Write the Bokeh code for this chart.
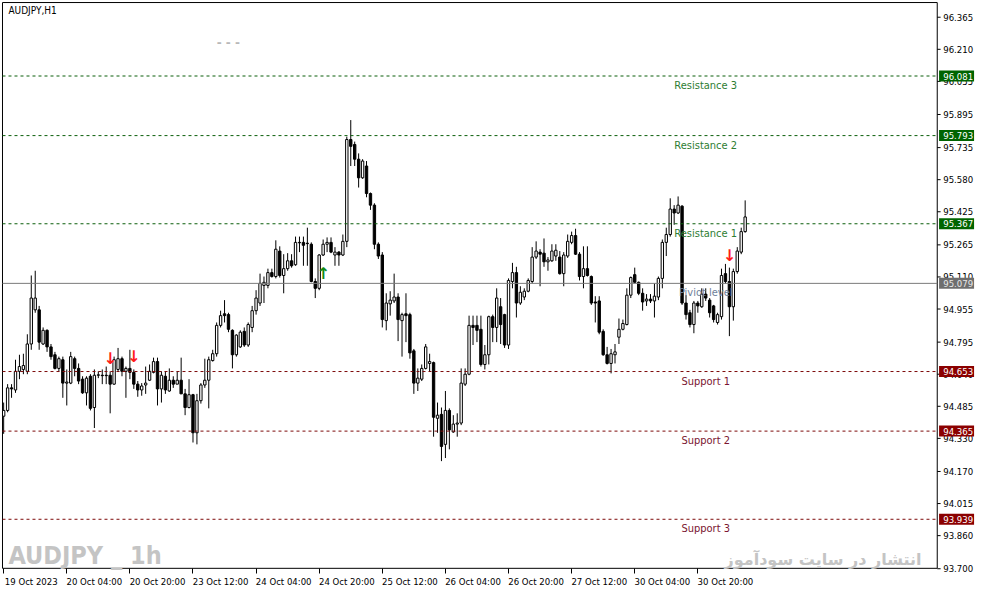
import pandas as pd
from bokeh.plotting import figure
from bokeh.models import ColumnDataSource, FixedTicker, Label, Range1d
from bokeh.core.properties import value
from bokeh.embed import file_html
from bokeh.resources import INLINE

# ---------------- data (AUDJPY H1) ----------------
open_ = [94.437, 94.465, 94.574, 94.564, 94.654, 94.663, 94.654, 94.786, 94.951, 94.951,
         94.786, 94.852, 94.772, 94.734, 94.668, 94.710, 94.597, 94.597, 94.715, 94.668,
         94.616, 94.550, 94.630, 94.479, 94.635, 94.635, 94.635, 94.635, 94.592, 94.663,
         94.715, 94.654, 94.668, 94.649, 94.592, 94.564, 94.588, 94.611, 94.649, 94.701,
         94.569, 94.630, 94.559, 94.611, 94.592, 94.611, 94.545, 94.479, 94.541, 94.357,
         94.512, 94.588, 94.611, 94.706, 94.739, 94.876, 94.932, 94.928, 94.852, 94.734,
         94.772, 94.847, 94.781, 94.866, 94.947, 94.984, 95.069, 95.069, 95.131, 95.112,
         95.235, 95.117, 95.150, 95.188, 95.169, 95.277, 95.277, 95.273, 95.268, 95.088,
         95.055, 95.216, 95.268, 95.277, 95.216, 95.230, 95.216, 95.282, 95.774, 95.750,
         95.679, 95.589, 95.646, 95.513, 95.457, 95.268, 95.216, 94.899, 94.980, 94.994,
         95.013, 94.899, 94.932, 94.928, 94.753, 94.597, 94.616, 94.668, 94.692, 94.696,
         94.427, 94.446, 94.301, 94.465, 94.361, 94.399, 94.404, 94.592, 94.640, 94.876,
         94.876, 94.857, 94.687, 94.734, 94.918, 94.866, 94.966, 94.928, 94.781, 95.088,
         95.131, 94.984, 95.013, 95.041, 95.088, 95.206, 95.230, 95.225, 95.183, 95.188,
         95.211, 95.206, 95.126, 95.211, 95.277, 95.310, 95.220, 95.112, 95.150, 95.112,
         94.989, 94.994, 94.847, 94.734, 94.692, 94.734, 94.819, 94.857, 94.880, 95.022,
         95.121, 95.084, 95.031, 94.994, 95.003, 94.994, 95.013, 95.103, 95.277, 95.315,
         95.438, 95.419, 95.452, 94.984, 94.937, 94.880, 94.984, 94.966, 95.027, 94.998,
         94.970, 94.890, 94.918, 95.126, 95.088, 94.966, 95.136, 95.230, 95.329]
high = [94.503, 94.592, 94.592, 94.710, 94.734, 94.739, 94.833, 95.117, 95.140, 94.970,
        94.866, 94.857, 94.786, 94.748, 94.725, 94.725, 94.663, 94.748, 94.725, 94.692,
        94.630, 94.630, 94.640, 94.663, 94.654, 94.663, 94.677, 94.654, 94.725, 94.767,
        94.725, 94.677, 94.758, 94.663, 94.607, 94.597, 94.677, 94.687, 94.720, 94.720,
        94.654, 94.654, 94.668, 94.630, 94.654, 94.720, 94.569, 94.616, 94.545, 94.545,
        94.597, 94.715, 94.725, 94.758, 94.890, 94.947, 94.998, 94.937, 94.857, 94.833,
        94.852, 94.866, 94.890, 94.970, 95.046, 95.126, 95.112, 95.150, 95.150, 95.287,
        95.258, 95.220, 95.225, 95.220, 95.305, 95.305, 95.305, 95.348, 95.277, 95.103,
        95.220, 95.291, 95.301, 95.301, 95.254, 95.235, 95.315, 95.788, 95.868, 95.764,
        95.707, 95.679, 95.670, 95.518, 95.466, 95.277, 95.230, 95.031, 95.041, 95.126,
        95.031, 94.937, 95.031, 94.937, 94.762, 94.668, 94.687, 94.786, 94.739, 94.701,
        94.503, 94.479, 94.559, 94.475, 94.442, 94.451, 94.668, 94.668, 94.923, 94.923,
        94.923, 94.923, 94.781, 94.923, 94.928, 95.055, 95.008, 94.932, 95.103, 95.178,
        95.159, 95.065, 95.055, 95.103, 95.254, 95.282, 95.244, 95.296, 95.206, 95.268,
        95.268, 95.235, 95.230, 95.315, 95.329, 95.343, 95.230, 95.258, 95.258, 95.117,
        95.017, 95.017, 94.857, 94.772, 94.762, 94.786, 94.909, 94.904, 95.055, 95.112,
        95.155, 95.088, 95.055, 95.027, 95.027, 95.079, 95.112, 95.291, 95.348, 95.490,
        95.457, 95.499, 95.457, 95.022, 94.951, 94.994, 94.994, 95.055, 95.055, 95.008,
        94.975, 94.937, 95.150, 95.173, 95.155, 95.150, 95.254, 95.348, 95.480]
low = [94.352, 94.456, 94.526, 94.550, 94.616, 94.640, 94.640, 94.758, 94.937, 94.758,
       94.781, 94.748, 94.710, 94.663, 94.654, 94.526, 94.489, 94.592, 94.630, 94.592,
       94.545, 94.489, 94.465, 94.380, 94.621, 94.592, 94.592, 94.451, 94.588, 94.654,
       94.630, 94.526, 94.616, 94.569, 94.531, 94.536, 94.545, 94.607, 94.644, 94.489,
       94.503, 94.545, 94.555, 94.574, 94.592, 94.545, 94.442, 94.475, 94.310, 94.301,
       94.498, 94.574, 94.475, 94.701, 94.725, 94.866, 94.890, 94.843, 94.668, 94.725,
       94.767, 94.772, 94.772, 94.843, 94.928, 94.970, 94.984, 95.055, 95.107, 95.103,
       95.107, 95.031, 95.140, 95.155, 95.164, 95.230, 95.164, 95.164, 95.084, 95.008,
       95.046, 95.211, 95.230, 95.225, 95.164, 95.164, 95.211, 95.254, 95.646, 95.646,
       95.542, 95.584, 95.495, 95.434, 95.244, 95.197, 94.866, 94.852, 94.923, 94.984,
       94.800, 94.725, 94.795, 94.715, 94.545, 94.559, 94.607, 94.663, 94.654, 94.338,
       94.357, 94.220, 94.235, 94.277, 94.357, 94.338, 94.394, 94.583, 94.635, 94.781,
       94.795, 94.677, 94.663, 94.687, 94.795, 94.795, 94.786, 94.767, 94.762, 95.055,
       94.914, 94.975, 94.998, 95.036, 95.079, 95.197, 95.065, 95.159, 95.140, 95.183,
       95.188, 95.121, 95.065, 95.202, 95.268, 95.216, 95.093, 95.055, 95.112, 94.975,
       94.890, 94.833, 94.729, 94.687, 94.644, 94.692, 94.786, 94.852, 94.876, 95.008,
       95.079, 95.022, 94.947, 94.970, 94.984, 94.914, 94.998, 95.055, 95.211, 95.305,
       95.362, 95.414, 94.975, 94.904, 94.866, 94.838, 94.937, 94.961, 94.994, 94.914,
       94.890, 94.880, 94.904, 95.079, 94.824, 94.899, 95.126, 95.220, 95.324]
close = [94.465, 94.574, 94.569, 94.654, 94.677, 94.682, 94.786, 95.008, 95.008, 94.795,
         94.852, 94.772, 94.725, 94.668, 94.715, 94.597, 94.602, 94.725, 94.668, 94.607,
         94.550, 94.621, 94.475, 94.635, 94.637, 94.633, 94.633, 94.592, 94.710, 94.715,
         94.654, 94.668, 94.649, 94.592, 94.564, 94.583, 94.597, 94.654, 94.701, 94.569,
         94.635, 94.564, 94.611, 94.592, 94.611, 94.545, 94.479, 94.541, 94.357, 94.512,
         94.588, 94.611, 94.710, 94.739, 94.876, 94.923, 94.923, 94.857, 94.734, 94.829,
         94.843, 94.781, 94.880, 94.947, 95.008, 95.079, 95.084, 95.131, 95.112, 95.244,
         95.117, 95.150, 95.188, 95.164, 95.277, 95.275, 95.263, 95.271, 95.088, 95.055,
         95.216, 95.268, 95.277, 95.230, 95.230, 95.216, 95.282, 95.774, 95.741, 95.679,
         95.589, 95.670, 95.513, 95.457, 95.268, 95.211, 94.904, 94.984, 94.998, 95.013,
         94.904, 94.928, 94.923, 94.743, 94.597, 94.621, 94.668, 94.772, 94.701, 94.432,
         94.442, 94.291, 94.465, 94.371, 94.399, 94.404, 94.597, 94.640, 94.876, 94.866,
         94.852, 94.687, 94.734, 94.918, 94.866, 95.008, 94.880, 94.781, 95.093, 95.131,
         94.984, 95.036, 95.041, 95.093, 95.206, 95.235, 95.220, 95.183, 95.192, 95.235,
         95.239, 95.126, 95.216, 95.282, 95.310, 95.220, 95.112, 95.150, 95.117, 94.984,
         94.984, 94.843, 94.734, 94.692, 94.739, 94.748, 94.857, 94.885, 95.022, 95.107,
         95.084, 95.031, 94.989, 95.003, 94.994, 95.017, 95.103, 95.277, 95.315, 95.438,
         95.419, 95.457, 94.984, 94.928, 94.880, 94.984, 94.970, 95.027, 95.008, 94.937,
         94.904, 94.928, 95.117, 95.088, 94.966, 95.136, 95.235, 95.329, 95.400]

first_bar = "2023-10-19 12:00"
label_every = 16

level_names = ["Resistance 3", "Resistance 2", "Resistance 1", "Piviot level",
               "Support 1", "Support 2", "Support 3"]
level_values = [96.081, 95.793, 95.367, 95.079, 94.653, 94.365, 93.939]
level_kind = ["R", "R", "R", "P", "S", "S", "S"]

y_ticks = [96.365, 96.210, 96.055, 95.895, 95.735, 95.580, 95.425, 95.265, 95.110,
           94.955, 94.795, 94.640, 94.485, 94.330, 94.170, 94.015, 93.860, 93.700]

down_arrow_bars = [27, 33, 184]
up_arrow_bars = [81]

# ---------------- derived ----------------
n = len(close)
idx = list(range(n))
hours = pd.date_range(first_bar, periods=n * 2, freq="h")
times = hours[hours.dayofweek < 5][:n]

tick_idx = list(range(0, n, label_every))
tick_labels = [times[i].strftime("%d %b %Y") if k == 0 else times[i].strftime("%d %b %H:%M")
               for k, i in enumerate(tick_idx)]

src = ColumnDataSource(dict(
    idx=idx, o=open_, h=high, l=low, c=close,
    top=[max(a, b) for a, b in zip(open_, close)],
    bottom=[min(a, b) for a, b in zip(open_, close)],
    fill=["white" if c >= o else "black" for o, c in zip(open_, close)],
))

FONT = "DejaVu Sans Condensed"

# frame geometry (price window and chart area in bar units)
frame_lo, frame_hi = 93.702, 96.436
x_left, x_axis = -0.3, 236.7
pad_top, pad_bottom = 0.005, 0.025

p = figure(width=975, height=589,
           x_range=Range1d(x_left - 0.25, 246.4),
           y_range=Range1d(frame_lo - pad_bottom, frame_hi + pad_top),
           y_axis_location=None, x_axis_location="below",
           toolbar_location=None, output_backend="svg",
           min_border_left=1, min_border_top=1, min_border_right=0, min_border_bottom=16)
p.grid.visible = False
p.outline_line_color = None
p.background_fill_color = "white"
p.border_fill_color = "white"

# bottom time axis: labels start at their tick (MT4 style)
shift = 7
xa = p.xaxis[0]
xa.ticker = FixedTicker(ticks=[t + shift for t in tick_idx], minor_ticks=tick_idx)
xa.major_label_overrides = {t + shift: lab for t, lab in zip(tick_idx, tick_labels)}
xa.major_tick_out = 0
xa.major_tick_in = 0
xa.minor_tick_out = 0
xa.minor_tick_in = 5
xa.minor_tick_line_color = "black"
xa.axis_line_color = None
xa.major_label_standoff = 2
xa.major_label_text_font = FONT
xa.major_label_text_font_size = "9.5px"
xa.major_label_text_color = "black"

# chart frame: left, top, bottom borders and price-scale line
p.segment(x0=[x_left, x_left, x_left, x_axis], y0=[frame_lo, frame_hi, frame_lo, frame_lo],
          x1=[x_left, x_axis, x_axis, x_axis], y1=[frame_hi, frame_hi, frame_lo, frame_hi],
          line_color="black", line_width=1)

# price scale ticks and labels
p.segment(x0=[x_axis] * len(y_ticks), x1=[x_axis + 0.85] * len(y_ticks), y0=y_ticks, y1=y_ticks,
          line_color="black", line_width=1)
p.text(x=[x_axis] * len(y_ticks), y=y_ticks, text=[f"{t:.3f}" for t in y_ticks],
       x_offset=6, text_align="left", text_baseline="middle", text_color="black",
       text_font=value(FONT), text_font_size="9.5px")

text_col = {"R": "#2e7d32", "P": "#6f7f9a", "S": "#7a1530"}
line_col = {"R": "#0b5e0b", "P": "#7a7a7a", "S": "#7d0a0a"}
box_col = {"R": "#006400", "P": "#6e6e6e", "S": "#8b0000"}
box_txt = {"R": "white", "P": "#e8e8e8", "S": "white"}

# candles
p.segment(x0="idx", y0="l", x1="idx", y1="h", source=src, line_color="black", line_width=1)
p.vbar(x="idx", width=0.6, top="top", bottom="bottom", source=src,
       fill_color="fill", line_color="black", line_width=1)

# level captions
p.text(x=[178] * len(level_values), y=level_values, text=level_names,
       text_color=[text_col[k] for k in level_kind], text_align="center", text_baseline="top",
       y_offset=3, text_font=value(FONT), text_font_size="11px")

# arrows
p.text(x=down_arrow_bars, y=[high[i] for i in down_arrow_bars], text=["↓"] * len(down_arrow_bars),
       text_color="#ff1a1a", text_align="center", text_baseline="bottom", y_offset=-3,
       text_font=value("DejaVu Sans"), text_font_size="16px", text_font_style="bold")
p.text(x=up_arrow_bars, y=[low[i] for i in up_arrow_bars], text=["↑"] * len(up_arrow_bars),
       text_color="#138a13", text_align="center", text_baseline="top", y_offset=8,
       text_font=value("DejaVu Sans"), text_font_size="16px", text_font_style="bold")

# level lines
dashed = [i for i, k in enumerate(level_kind) if k != "P"]
solid = [i for i, k in enumerate(level_kind) if k == "P"]
p.segment(x0=[x_left] * len(dashed), x1=[x_axis] * len(dashed),
          y0=[level_values[i] for i in dashed], y1=[level_values[i] for i in dashed],
          line_color=[line_col[level_kind[i]] for i in dashed], line_width=1, line_dash="3 3")
p.segment(x0=[x_left] * len(solid), x1=[x_axis] * len(solid),
          y0=[level_values[i] for i in solid], y1=[level_values[i] for i in solid],
          line_color=[line_col[level_kind[i]] for i in solid], line_width=1)

# price boxes on the scale
p.rect(x=[x_axis + 4.9] * len(level_values), y=level_values, width=35, height=11,
       width_units="screen", height_units="screen",
       fill_color=[box_col[k] for k in level_kind], line_color=None)
p.text(x=[x_axis] * len(level_values), y=level_values, text=[f"{v:.3f}" for v in level_values],
       x_offset=6, text_align="left", text_baseline="middle",
       text_color=[box_txt[k] for k in level_kind], text_font=value(FONT), text_font_size="9.5px")

# texts
p.add_layout(Label(x=1.2, y=96.424, text="AUDJPY,H1", text_baseline="top", text_align="left",
                   text_font=FONT, text_font_size="10px", text_color="black"))
p.add_layout(Label(x=54, y=96.242, text="- - -", text_baseline="middle", text_align="left",
                   text_font="DejaVu Sans", text_font_size="12px", text_font_style="bold",
                   text_color="#b8b8b8"))
p.add_layout(Label(x=1.2, y=93.693, text="AUDJPY _ 1h", text_baseline="bottom",
                   text_align="left", text_font="DejaVu Sans Condensed", text_font_size="25px",
                   text_font_style="bold", text_color="#c4c4c4"))
p.add_layout(Label(x=232.7, y=93.697, text="انتشار در سایت سودآموز", text_baseline="bottom",
                   text_align="right", text_font="DejaVu Sans", text_font_size="16px",
                   text_font_style="bold", text_color="#c4c4c4"))

open("out.html", "w").write(file_html(p, INLINE))
